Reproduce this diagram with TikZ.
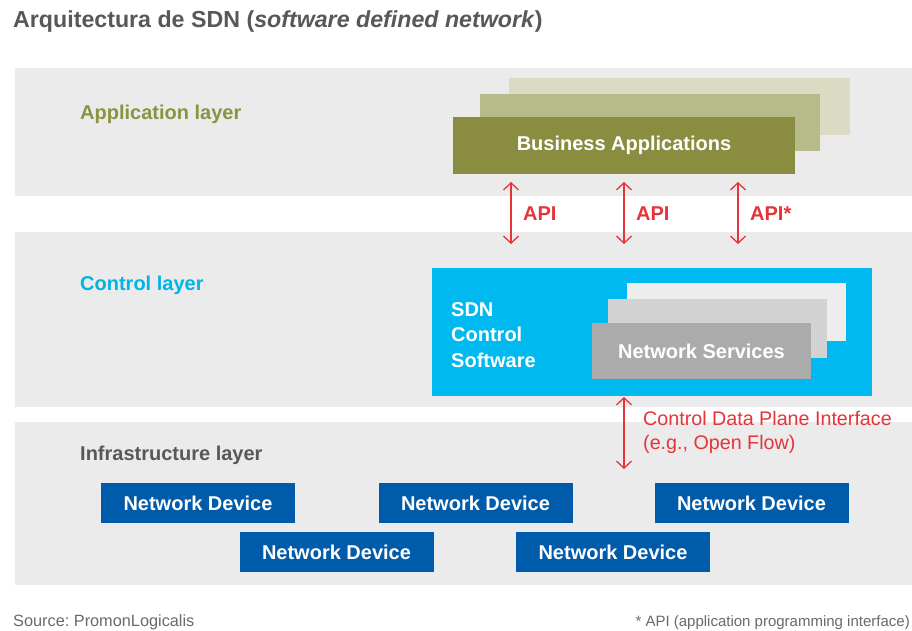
\documentclass[tikz,border=0pt]{standalone}
\usepackage{fontspec}
\setmainfont{Liberation Sans}
\usetikzlibrary{arrows.meta}
\frenchspacing
\definecolor{band}{HTML}{EBEBEB}
\definecolor{darktext}{HTML}{585858}
\definecolor{olive}{HTML}{8A8D3F}
\definecolor{olivetext}{HTML}{8B9343}
\definecolor{olivemid}{HTML}{B7BA89}
\definecolor{oliveback}{HTML}{DBDBC3}
\definecolor{apired}{HTML}{E5343A}
\definecolor{sdncyan}{HTML}{00B9F0}
\definecolor{cyantext}{HTML}{00B4E8}
\definecolor{svcfront}{HTML}{ABABAB}
\definecolor{svcmid}{HTML}{D2D2D2}
\definecolor{svcback}{HTML}{EDEDED}
\definecolor{devblue}{HTML}{005BAA}
\definecolor{foot}{HTML}{6A6A6A}
\tikzset{
  box/.style={rectangle, inner sep=0pt, outer sep=0pt},
  bigtxt/.style={font=\fontsize{20}{24}\selectfont\bfseries},
  layertxt/.style={anchor=west, inner sep=0pt, bigtxt},
  device/.style={box, fill=devblue, minimum width=194pt, minimum height=40pt, text=white, bigtxt},
  apiarrow/.style={draw=apired, line width=1.3pt, {Straight Barb[length=7pt,width=15pt]}-{Straight Barb[length=7pt,width=15pt]}},
  apilabel/.style={anchor=west, inner sep=0pt, text=apired, bigtxt},
}
\begin{document}
\begin{tikzpicture}[x=1pt, y=-1pt]
\useasboundingbox (0,0) rectangle (912,631);
\fill[white] (0,0) rectangle (912,631);

% title
\node[anchor=base west, inner sep=0pt, text=darktext, font=\fontsize{23.2}{27}\selectfont\bfseries] (title) at (13,28)
  {Arquitectura de SDN (\textit{software defined network})};

% layer bands
\fill[band] (15,68) rectangle (912,196);
\fill[band] (15,232) rectangle (912,407);
\fill[band] (15,422) rectangle (912,585);

% application layer
\node[layertxt, text=olivetext] (applayer) at (80,114) {Application layer};
\node[box, fill=oliveback, minimum width=341pt, minimum height=57pt] (appback) at (679.5,106.5) {};
\node[box, fill=olivemid, minimum width=340pt, minimum height=57pt] (appmid) at (650,122.5) {};
\node[box, fill=olive, minimum width=342pt, minimum height=57pt, text=white, bigtxt] (bizapp) at (624,145.5) {Business Applications};

% control layer
\node[layertxt, text=cyantext] (ctrllayer) at (80,285) {Control layer};
\node[box, fill=sdncyan, minimum width=440pt, minimum height=128pt] (sdn) at (652,332) {};
\node[anchor=west, inner sep=0pt, align=left, text=white, font=\fontsize{20}{25.5}\selectfont\bfseries] (sdntxt) at (451,335)
  {SDN\\Control\\Software};
\node[box, fill=svcback, minimum width=219pt, minimum height=58pt] (svcback) at (736.5,312) {};
\node[box, fill=svcmid, minimum width=219pt, minimum height=59pt] (svcmid) at (717.5,328.5) {};
\node[box, fill=svcfront, minimum width=219pt, minimum height=56pt, text=white, bigtxt] (svc) at (701.5,351) {Network Services};

% API connectors between application and control layers
\coordinate (a1t) at (511,182); \coordinate (a1b) at (511,244);
\coordinate (a2t) at (624,182); \coordinate (a2b) at (624,244);
\coordinate (a3t) at (738,182); \coordinate (a3b) at (738,244);
\draw[apiarrow] (a1t) -- (a1b);
\draw[apiarrow] (a2t) -- (a2b);
\draw[apiarrow] (a3t) -- (a3b);
\node[apilabel] (api1) at (523,214) {API};
\node[apilabel] (api2) at (636,214) {API};
\node[apilabel] (api3) at (750,214) {API*};

% infrastructure layer
\node[layertxt, text=darktext] (infralayer) at (80,455) {Infrastructure layer};
\node[device] (d1) at (198,503) {Network Device};
\node[device] (d2) at (475.5,503) {Network Device};
\node[device] (d3) at (751.5,503) {Network Device};
\node[device] (d4) at (336.5,552) {Network Device};
\node[device] (d5) at (613,552) {Network Device};

% control / data plane interface
\coordinate (cdpb) at (624,469);
\draw[apiarrow] ([yshift=-1pt]sdn.south -| cdpb) -- (cdpb);
\node[anchor=west, inner sep=0pt, align=left, text=apired, font=\fontsize{19.7}{24}\selectfont] (cdp) at (643,432)
  {Control Data Plane Interface\\(e.g., Open Flow)};

% footer
\node[anchor=base west, inner sep=0pt, text=foot, font=\fontsize{16.3}{19}\selectfont] (src) at (13,626) {Source: PromonLogicalis};
\node[anchor=base east, inner sep=0pt, text=foot, font=\fontsize{15}{18}\selectfont] (note) at (910,626) {* API (application programming interface)};
\end{tikzpicture}
\end{document}
